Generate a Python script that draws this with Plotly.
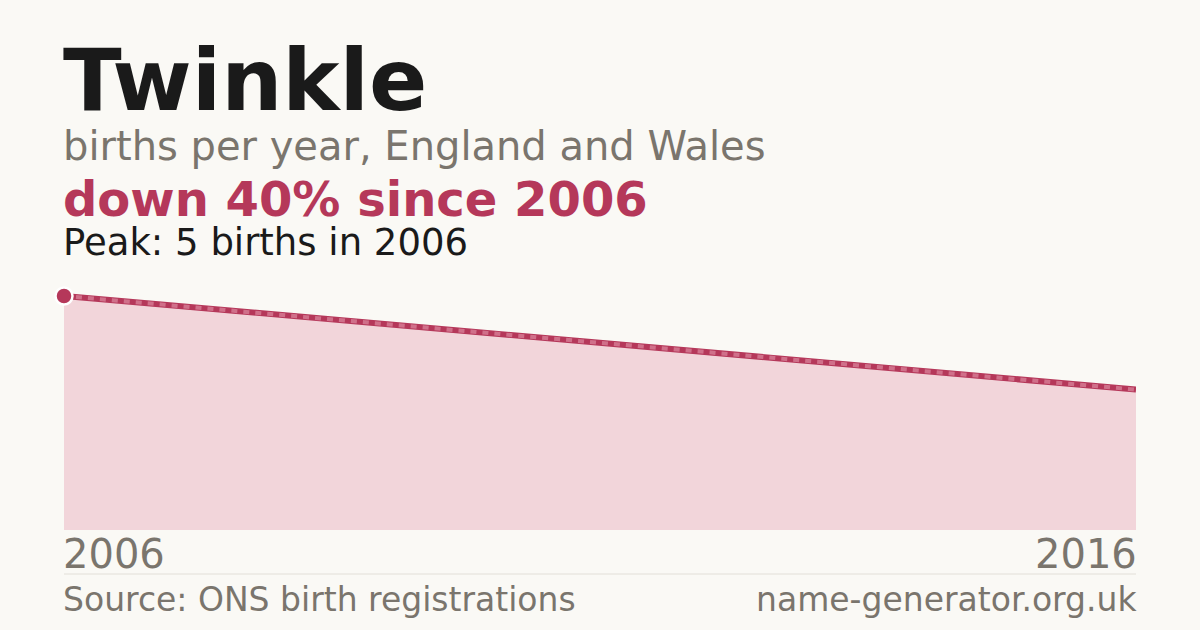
import plotly.graph_objects as go

# Data
years = [2006, 2016]
births = [5, 3]
peak_year = [2006]
peak_value = [5]
tick_labels = ["2006", "2016"]

title = "Twinkle"
subtitle = "births per year, England and Wales"
headline = "down 40% since 2006"
peak_text = "Peak: 5 births in 2006"
source_text = "Source: ONS birth registrations"
site_text = "name-generator.org.uk"

BG = "#faf9f5"
RED = "#b5385a"
FILL = "#f2d5da"
GREY = "#7a756d"
DARK = "#1a1a1a"
FONT = "DejaVu Sans"

W, H = 1200, 630
M_L, M_R, M_T, M_B = 64, 64, 284, 100
PH = H - M_T - M_B
px_per_unit = (530 - 296) / 5.0
ymax = PH / px_per_unit


def py(pix):
    return (H - M_B - pix) / PH


fig = go.Figure()
fig.add_trace(go.Scatter(
    x=years, y=births, mode="lines",
    line=dict(color=RED, width=6),
    fill="tozeroy", fillcolor=FILL,
    hoverinfo="skip", showlegend=False,
))
fig.add_trace(go.Scatter(
    x=years, y=births, mode="lines",
    line=dict(color="#d0708a", width=4, dash="6px,6px"),
    hoverinfo="skip", showlegend=False,
))
fig.add_trace(go.Scatter(
    x=peak_year, y=peak_value, mode="markers",
    marker=dict(color=RED, size=17, line=dict(color="white", width=2.5)),
    cliponaxis=False, hoverinfo="skip", showlegend=False,
))

ann = []
def add(text, x, y, size, color, bold=False, xanchor="left", xref="paper", height=None):
    a = dict(
        text=f"<b>{text}</b>" if bold else text,
        x=x, y=py(y), xref=xref, yref="paper",
        xanchor=xanchor, yanchor="middle", showarrow=False,
        xshift=-3 if xanchor == "left" else 3,
        font=dict(family=FONT, size=size, color=color),
    )
    if height:
        a["height"] = height
    ann.append(a)

add(title, 0, 80, 86, DARK, bold=True, height=84)
add(subtitle, 0, 146, 40, GREY, height=48)
add(headline, 0, 199, 48, RED, bold=True, height=46)
add(peak_text, 0, 242, 37, DARK, height=38)
add(tick_labels[0], years[0], 554, 40, GREY, xanchor="left", xref="x")
add(tick_labels[1], years[1], 554, 40, GREY, xanchor="right", xref="x")
add(source_text, 0, 599, 33, GREY)
add(site_text, 1, 599, 33, GREY, xanchor="right")

fig.update_layout(
    width=W, height=H,
    margin=dict(l=M_L, r=M_R, t=M_T, b=M_B, pad=0),
    paper_bgcolor=BG, plot_bgcolor=BG,
    xaxis=dict(range=[years[0], years[-1]], visible=False, fixedrange=True),
    yaxis=dict(range=[0, ymax], visible=False, fixedrange=True),
    annotations=ann,
    shapes=[dict(type="line", xref="paper", yref="paper",
                 x0=0, x1=1, y0=py(574), y1=py(574),
                 line=dict(color="#e2dfd8", width=1))],
)

fig.write_html(
    "out.html",
    config={"displayModeBar": False},
    post_script="document.body.style.margin='0';document.body.style.background='%s';" % BG,
)
